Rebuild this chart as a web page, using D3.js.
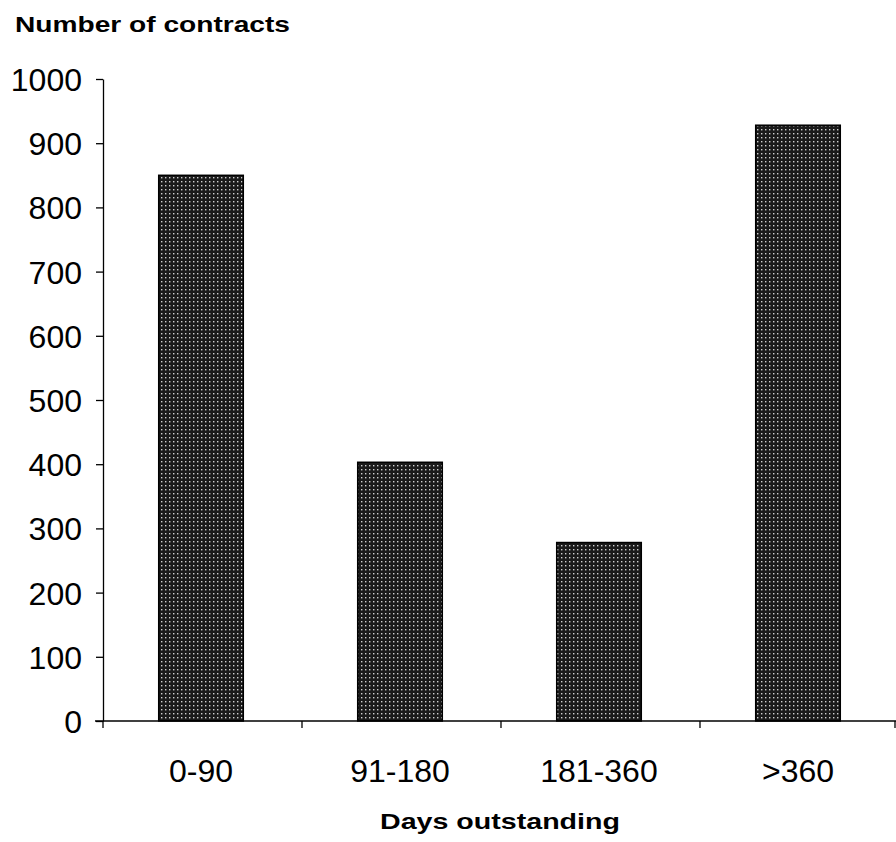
<!DOCTYPE html>
<html>
<head>
<meta charset="utf-8">
<script src="https://cdn.jsdelivr.net/npm/d3@7"></script>
<style>
  body { margin: 0; background: #fff; }
  svg { display: block; font-family: "Liberation Sans", Arial, sans-serif; }
</style>
</head>
<body>
<div id="chart"></div>
<script>
// data
const categories = ["0-90", "91-180", "181-360", ">360"];
const contracts = [850, 403, 278, 928];
const yTicks = [0, 100, 200, 300, 400, 500, 600, 700, 800, 900, 1000];

const width = 896, height = 842;
const margin = { top: 79, right: 0, bottom: 120, left: 103 };

const svg = d3.select("#chart").append("svg")
  .attr("width", width)
  .attr("height", height);

// dotted dark fill like the scanned bars
const pat = svg.append("defs").append("pattern")
  .attr("id", "dots")
  .attr("patternUnits", "userSpaceOnUse")
  .attr("width", 4).attr("height", 4);
pat.append("rect").attr("width", 4).attr("height", 4).attr("fill", "#1a1a1a");
pat.append("rect").attr("x", 1).attr("y", 1).attr("width", 1.4).attr("height", 1.4).attr("fill", "#cfcfcf");

const x = d3.scaleBand()
  .domain(categories)
  .range([margin.left, width - margin.right])
  .paddingInner(0.575)
  .paddingOuter(0.28);

const y = d3.scaleLinear()
  .domain([0, 1000])
  .range([height - margin.bottom - 1, margin.top]);

// bars
svg.selectAll(".bar")
  .data(contracts)
  .enter()
  .append("rect")
  .attr("class", "bar")
  .attr("x", (d, i) => x(categories[i]))
  .attr("y", d => y(d))
  .attr("width", x.bandwidth())
  .attr("height", d => y(0) - y(d))
  .attr("fill", "url(#dots)")
  .attr("stroke", "#000")
  .attr("stroke-width", 1.5);

// y axis
const yAxis = svg.append("g")
  .attr("transform", `translate(${margin.left},0)`)
  .call(d3.axisLeft(y).tickValues(yTicks).tickFormat(d3.format("d"))
    .tickSize(7).tickPadding(14).tickSizeOuter(0));
yAxis.select(".domain").attr("stroke", "#000").attr("stroke-width", 1.3);
yAxis.selectAll(".tick line").attr("stroke", "#000").attr("stroke-width", 1.3);
yAxis.selectAll(".tick text")
  .attr("fill", "#000")
  .style("font-size", "32px")
  .attr("dy", "0.36em");

// x axis: ticks at band boundaries
const xAxisG = svg.append("g")
  .attr("transform", `translate(0,${y(0)})`);
xAxisG.append("line")
  .attr("x1", margin.left - 8).attr("x2", width)
  .attr("stroke", "#000").attr("stroke-width", 1.3);
const step = x.step();
const bounds = d3.range(categories.length + 1).map(i => margin.left + i * step);
xAxisG.selectAll(".xt")
  .data(bounds)
  .enter().append("line")
  .attr("x1", d => Math.min(d, width - 1)).attr("x2", d => Math.min(d, width - 1))
  .attr("y1", 0).attr("y2", 7)
  .attr("stroke", "#000").attr("stroke-width", 1.3);
xAxisG.selectAll(".xl")
  .data(categories)
  .enter().append("text")
  .attr("x", d => x(d) + x.bandwidth() / 2)
  .attr("y", 61)
  .attr("text-anchor", "middle")
  .style("font-size", "32px")
  .text(d => d);

// titles (scan has wide bold lettering, so stretch to the measured width)
svg.append("text")
  .attr("x", 15).attr("y", 32)
  .attr("textLength", 275).attr("lengthAdjust", "spacingAndGlyphs")
  .style("font-size", "22px").style("font-weight", "bold")
  .text("Number of contracts");

svg.append("text")
  .attr("x", 380).attr("y", 829)
  .attr("textLength", 240).attr("lengthAdjust", "spacingAndGlyphs")
  .style("font-size", "22px").style("font-weight", "bold")
  .text("Days outstanding");
</script>
</body>
</html>
